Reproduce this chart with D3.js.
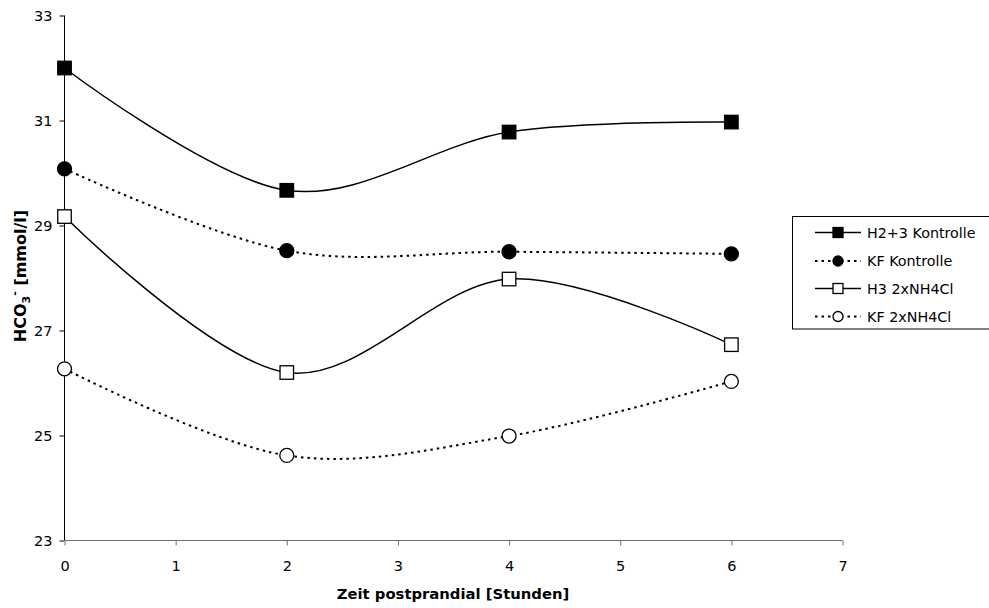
<!DOCTYPE html>
<html><head><meta charset="utf-8">
<script src="https://cdn.jsdelivr.net/npm/d3@7"></script>
<style>body{margin:0;background:#fff}svg{display:block}text{font-family:"DejaVu Sans",sans-serif}</style>
</head><body>
<svg id="c" width="989" height="608"></svg>
<script>
const hours = [0, 2, 4, 6];
const seriesNames = ["H2+3 Kontrolle", "KF Kontrolle", "H3 2xNH4Cl", "KF 2xNH4Cl"];
const h23Kontrolle = [32.0, 29.67, 30.78, 30.97];
const kfKontrolle = [30.08, 28.52, 28.50, 28.46];
const h3NH4Cl = [29.17, 26.20, 27.98, 26.73];
const kfNH4Cl = [26.27, 24.62, 24.99, 26.03];
const xTicks = [0, 1, 2, 3, 4, 5, 6, 7];
const yTicks = [23, 25, 27, 29, 31, 33];

const svg = d3.select("#c");
const x = d3.scaleLinear().domain([0, 7]).range([64.5, 842.5]);
const y = d3.scaleLinear().domain([23, 33]).range([540.5, 15.5]);

const series = [
  {name: seriesNames[0], vals: h23Kontrolle, shape: "square", fill: "#000", dash: null},
  {name: seriesNames[1], vals: kfKontrolle, shape: "circle", fill: "#000", dash: "2.5,4"},
  {name: seriesNames[2], vals: h3NH4Cl, shape: "square", fill: "#fff", dash: null},
  {name: seriesNames[3], vals: kfNH4Cl, shape: "circle", fill: "#fff", dash: "2.5,4"}
];

// axes
const yAxis = svg.append("g").attr("transform", "translate(64.5,0)")
  .call(d3.axisLeft(y).tickValues(yTicks).tickFormat(d3.format("d")).tickSize(5).tickPadding(7));
yAxis.select(".domain").attr("stroke", "#000").attr("d", "M0,15.5V540.5");
yAxis.selectAll(".tick line").attr("stroke", "#000");
yAxis.selectAll("text").attr("font-size", 14.5).attr("fill", "#000");

const xAxis = svg.append("g").attr("transform", "translate(0,540.5)")
  .call(d3.axisBottom(x).tickValues(xTicks).tickFormat(d3.format("d")).tickSize(5).tickPadding(15));
xAxis.select(".domain").attr("stroke", "#707070").attr("d", "M64.5,0H842.5");
xAxis.selectAll(".tick line").attr("stroke", "#707070");
xAxis.selectAll("text").attr("font-size", 14.5).attr("fill", "#000");

// lines
const line = d3.line().x((d, i) => x(hours[i])).y(d => y(d)).curve(d3.curveCardinal.tension(0));
series.forEach(s => {
  svg.append("path").attr("d", line(s.vals)).attr("fill", "none")
    .attr("stroke", "#000").attr("stroke-width", s.dash ? 2 : 1.5)
    .attr("stroke-dasharray", s.dash);
});

function marker(g, shape, fill, cx, cy, size) {
  if (shape === "square") {
    g.append("rect").attr("x", cx - size / 2).attr("y", cy - size / 2)
      .attr("width", size).attr("height", size)
      .attr("fill", fill).attr("stroke", "#000").attr("stroke-width", 1.3);
  } else {
    g.append("circle").attr("cx", cx).attr("cy", cy).attr("r", size / 2)
      .attr("fill", fill).attr("stroke", "#000").attr("stroke-width", 1.3);
  }
}
series.forEach(s => {
  const g = svg.append("g");
  s.vals.forEach((v, i) => marker(g, s.shape, s.fill, x(hours[i]), y(v), s.shape === "square" ? 13.5 : 14));
});

// axis titles
svg.append("text").attr("x", 453).attr("y", 599).attr("text-anchor", "middle")
  .attr("font-size", 14.8).attr("font-weight", "bold").text("Zeit postprandial [Stunden]");
const yt = svg.append("text").attr("transform", "translate(26,276) rotate(-90)")
  .attr("text-anchor", "middle").attr("font-size", 16).attr("font-weight", "bold");
yt.append("tspan").text("HCO");
yt.append("tspan").attr("font-size", 11).attr("dy", 4).text("3");
yt.append("tspan").attr("font-size", 11).attr("dy", -12).text("-");
yt.append("tspan").attr("dy", 8).text(" [mmol/l]");

// legend
const lg = svg.append("g");
lg.append("rect").attr("x", 792.5).attr("y", 216.5).attr("width", 200).attr("height", 112.5)
  .attr("fill", "#fff").attr("stroke", "#000").attr("stroke-width", 1);
const legY = [232.5, 261, 288.5, 316.5];
series.forEach((s, i) => {
  lg.append("line").attr("x1", 815).attr("x2", 861).attr("y1", legY[i]).attr("y2", legY[i])
    .attr("stroke", "#000").attr("stroke-width", s.dash ? 2 : 1.5).attr("stroke-dasharray", s.dash);
  marker(lg, s.shape, s.fill, 838, legY[i], 10);
  lg.append("text").attr("x", 867).attr("y", legY[i]).attr("dy", "0.36em")
    .attr("font-size", 14.3).text(s.name);
});
</script>
</body></html>
